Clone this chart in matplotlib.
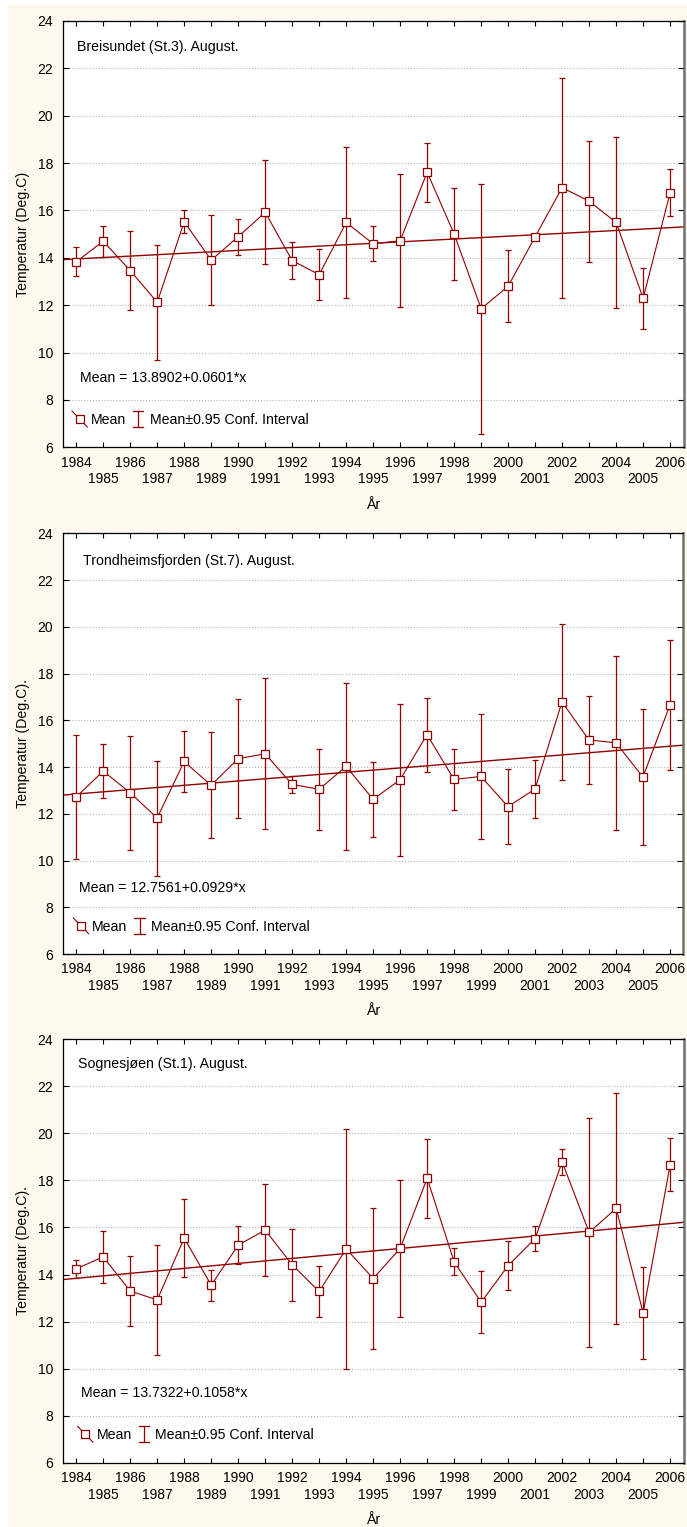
# Temperatur i august, tre stasjoner, med 95% konfidensintervall og lineær trend

import numpy as np
import matplotlib.pyplot as plt
from matplotlib.lines import Line2D
from matplotlib.patches import Rectangle

plt.rcParams['font.family'] = ['Liberation Sans', 'DejaVu Sans']
plt.rcParams['font.size'] = 10.2

years = list(range(1984, 2007))
titles = ['Breisundet (St.3). August.',
          'Trondheimsfjorden (St.7). August.',
          'Sognesjøen (St.1). August.']
ylabels = ['Temperatur (Deg.C)', 'Temperatur (Deg.C).', 'Temperatur (Deg.C).']

breisundet_mean = [13.83, 14.70, 13.46, 12.12, 15.52, 13.90, 14.89, 15.92, 13.88, 13.29, 15.49, 14.59,
                   14.72, 17.61, 15.00, 11.85, 12.80, 14.89, 16.96, 16.39, 15.49, 12.29, 16.75]
breisundet_ci = [0.62, 0.65, 1.66, 2.42, 0.48, 1.89, 0.76, 2.19, 0.77, 1.07, 3.20, 0.74,
                 2.80, 1.25, 1.95, 5.27, 1.52, 0.10, 4.64, 2.55, 3.62, 1.29, 0.98]

trondheim_mean = [12.72, 13.83, 12.90, 11.82, 14.24, 13.22, 14.36, 14.57, 13.26, 13.05, 14.03, 12.62,
                  13.46, 15.39, 13.47, 13.60, 12.31, 13.06, 16.79, 15.16, 15.04, 13.57, 16.66]
trondheim_ci = [2.66, 1.14, 2.45, 2.46, 1.29, 2.27, 2.54, 3.23, 0.37, 1.74, 3.57, 1.61,
                3.25, 1.58, 1.29, 2.69, 1.60, 1.24, 3.35, 1.88, 3.73, 2.92, 2.77]

sognesjoen_mean = [14.24, 14.75, 13.30, 12.92, 15.55, 13.55, 15.25, 15.89, 14.41, 13.28, 15.09, 13.83,
                   15.11, 18.09, 14.54, 12.82, 14.38, 15.53, 18.79, 15.79, 16.81, 12.37, 18.67]
sognesjoen_ci = [0.37, 1.10, 1.47, 2.33, 1.66, 0.66, 0.82, 1.95, 1.54, 1.10, 5.09, 3.01,
                 2.92, 1.68, 0.57, 1.32, 1.05, 0.53, 0.54, 4.86, 4.90, 1.96, 1.13]

# Mean = a + b*x, x = 1 for 1984
intercepts = [13.8902, 12.7561, 13.7322]
slopes = [0.0601, 0.0929, 0.1058]

means = [breisundet_mean, trondheim_mean, sognesjoen_mean]
cis = [breisundet_ci, trondheim_ci, sognesjoen_ci]

red = '#900000'
cream = '#fef9ee'


# legendesymboler i Statistica-stil
class MeanHandler:
    def legend_artist(self, legend, orig_handle, fontsize, handlebox):
        x0, y0 = -handlebox.xdescent, -handlebox.ydescent
        w, h = handlebox.width, handlebox.height
        handlebox.add_artist(Line2D([x0 - w * 0.1, x0 + w * 1.1], [y0 + h * 1.3, y0 - h * 0.3],
                                    color=red, lw=0.8))
        sq = Line2D([x0 + w / 2], [y0 + h / 2], marker='s', ms=6, mfc='white', mec=red, mew=0.9)
        handlebox.add_artist(sq)
        return sq


class CIHandler:
    def legend_artist(self, legend, orig_handle, fontsize, handlebox):
        x0, y0 = -handlebox.xdescent, -handlebox.ydescent
        w, h = handlebox.width, handlebox.height
        xc = x0 + w / 2
        bar = Line2D([xc, xc], [y0 - h * 0.3, y0 + h * 1.3], color=red, lw=0.9)
        handlebox.add_artist(bar)
        for yy in [y0 - h * 0.3, y0 + h * 1.3]:
            handlebox.add_artist(Line2D([xc - w * 0.4, xc + w * 0.4], [yy, yy], color=red, lw=0.9))
        return bar


fig = plt.figure(figsize=(6.87, 15.27), dpi=100, facecolor='white')
fig.patches.append(Rectangle((8 / 687, 0), 1, 1 - 5 / 1527, transform=fig.transFigure,
                             facecolor=cream, edgecolor='none', zorder=-1))

boxes = [(0.0913, 0.7071, 0.9038, 0.2792),
         (0.0913, 0.3752, 0.9035, 0.2755),
         (0.0913, 0.0421, 0.9038, 0.2773)]
title_pos = [(0.023, 0.939), (0.033, 0.934), (0.025, 0.941)]
eq_pos = [(0.028, 0.163), (0.027, 0.158), (0.030, 0.164)]
leg_pos = [(0.017, 0.064), (0.019, 0.065), (0.026, 0.065)]

for i in range(3):
    ax = fig.add_axes(boxes[i])
    ax.set_facecolor('white')
    ax.set_xlim(1983.5, 2006.5)
    ax.set_ylim(6, 24)

    # trendlinje
    x_fit = np.array(ax.get_xlim())
    ax.plot(x_fit, intercepts[i] + slopes[i] * (x_fit - 1983), color=red, lw=1.0, zorder=2)

    # middelverdier og konfidensintervall
    eb = ax.errorbar(years, means[i], yerr=cis[i], fmt='none', ecolor=red,
                     elinewidth=0.9, capsize=2, capthick=0.9, zorder=3)
    mline, = ax.plot(years, means[i], color=red, lw=0.8, marker='s', ms=5.3,
                     mfc='white', mec=red, mew=0.9, zorder=4)

    ax.set_yticks(range(6, 25, 2))
    ax.grid(axis='y', color='#b5b5b5', ls=':', lw=0.8)
    ax.set_axisbelow(True)

    # partall øverst, oddetall i andre rad
    ax.set_xticks(years[::2], [str(y) for y in years[::2]])
    ax.set_xticks(years[1::2], [str(y) for y in years[1::2]], minor=True)
    ax.tick_params(axis='both', which='both', direction='in', top=True, right=True,
                   width=0.8, labelsize=10)
    ax.tick_params(axis='x', which='major', length=3.5, pad=6)
    ax.tick_params(axis='x', which='minor', length=3.5, pad=18)
    ax.tick_params(axis='y', length=4, pad=7)

    ax.spines['right'].set_color('#707070')
    ax.spines['right'].set_linewidth(1.8)
    for s in ['left', 'bottom', 'top']:
        ax.spines[s].set_linewidth(0.9)

    ax.text(*title_pos[i], titles[i], transform=ax.transAxes, ha='left', va='center')
    ax.text(*eq_pos[i], f'Mean = {intercepts[i]:.4f}+{slopes[i]:.4f}*x',
            transform=ax.transAxes, ha='left', va='center')

    ax.legend([mline, eb], ['Mean', 'Mean±0.95 Conf. Interval'], loc='center left',
              bbox_to_anchor=leg_pos[i], ncol=2, frameon=False, handlelength=0.9,
              handletextpad=0.35, columnspacing=0.4, borderpad=0, borderaxespad=0,
              handler_map={mline: MeanHandler(), eb: CIHandler()})

    ax.set_ylabel(ylabels[i])
    ax.yaxis.set_label_coords(-0.053, 0.5)
    ax.set_xlabel('År')
    ax.xaxis.set_label_coords(0.5, -0.118)

fig.savefig('out.png', dpi=100, facecolor=fig.get_facecolor())
